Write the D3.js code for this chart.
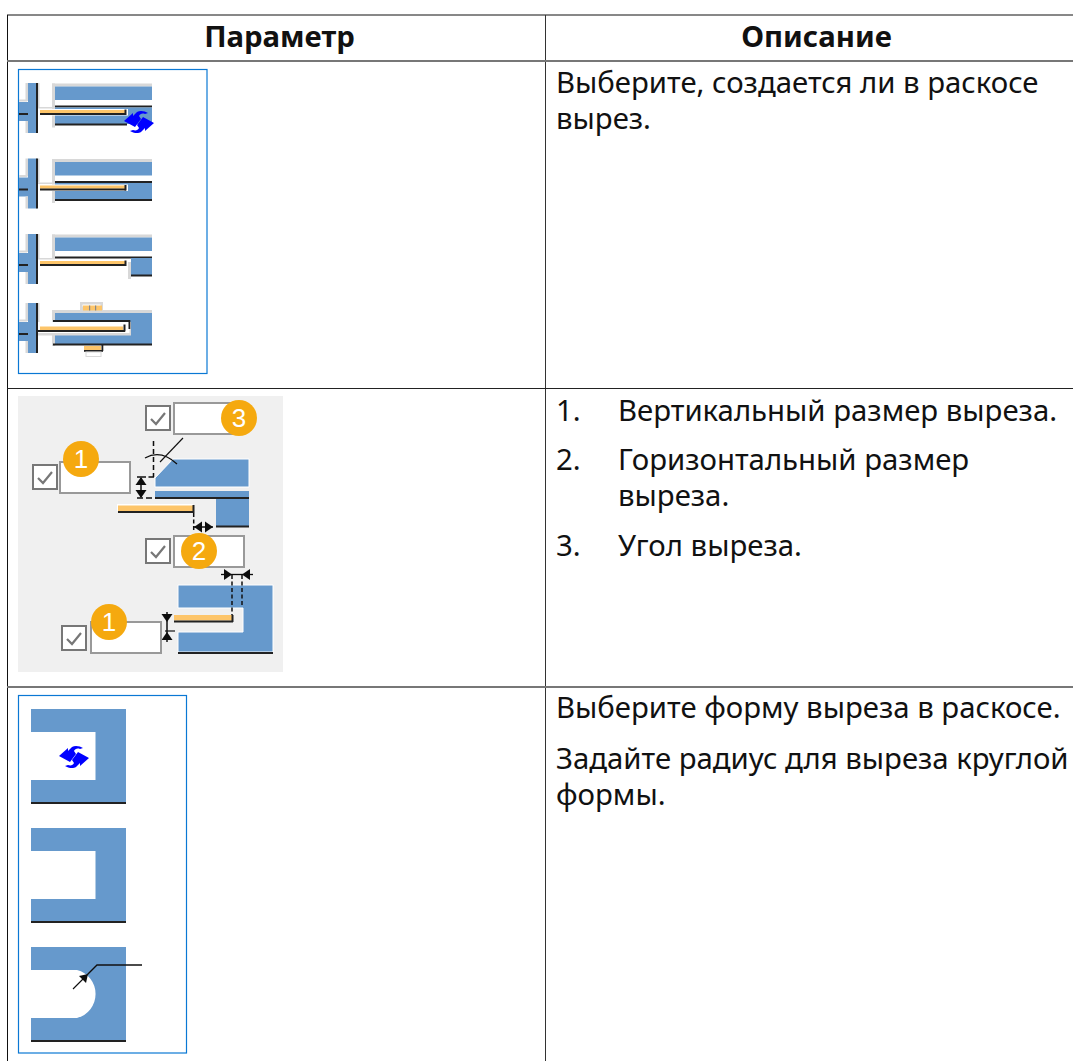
<!DOCTYPE html>
<html>
<head>
<meta charset="utf-8">
<script src="https://cdn.jsdelivr.net/npm/d3@7"></script>
<style>
html, body { margin: 0; padding: 0; background: #fff; overflow: hidden; }
svg { display: block; }
text { font-family: "Noto Sans", "Open Sans", sans-serif; fill: #111; }
</style>
</head>
<body>
<svg id="vis"></svg>
<script>
const WIDTH = 1073;
const HEIGHT = 1061;

const BLUE = "#6699cc";
const YELLOW = "#fdc56a";
const FRAME = "#0a78d4";
const ORANGE = "#f5a90f";
const GREY = "#d8d8d8";
const DARK = "#222";
const FONT_SIZE = 29.33;

const headers = ["Параметр", "Описание"];
const row1Lines = ["Выберите, создается ли в раскосе", "вырез."];
const row2Numbers = ["1.", "2.", "", "3."];
const row2Lines = ["Вертикальный размер выреза.", "Горизонтальный размер", "выреза.", "Угол выреза."];
const row3Lines = ["Выберите форму выреза в раскосе.", "Задайте радиус для выреза круглой", "формы."];
const badgeLabels = ["3", "1", "2", "1"];

const svg = d3.select("#vis").attr("width", WIDTH).attr("height", HEIGHT);

const defs = svg.append("defs");
defs.append("filter").attr("id", "soft")
    .attr("x", "-5%").attr("y", "-5%").attr("width", "110%").attr("height", "110%")
    .append("feGaussianBlur").attr("stdDeviation", 0.45);

function rect(g, x, y, w, h, fill) {
    return g.append("rect").attr("x", x).attr("y", y).attr("width", w).attr("height", h).attr("fill", fill);
}
function line(g, x1, y1, x2, y2, color, width, dash) {
    const l = g.append("line").attr("x1", x1).attr("y1", y1).attr("x2", x2).attr("y2", y2)
        .attr("stroke", color || "#111").attr("stroke-width", width || 1);
    if (dash) l.attr("stroke-dasharray", dash);
    return l;
}
function poly(g, d, fill, stroke) {
    return g.append("path").attr("d", d).attr("fill", fill).attr("stroke", stroke || "none");
}

// table grid
const grid = svg.append("g");
line(grid, 7, 15, WIDTH, 15, "#111", 1);
line(grid, 7.5, 15, 7.5, HEIGHT, "#111", 1);
line(grid, 545.5, 15, 545.5, HEIGHT, "#333", 1);
line(grid, 7, 61, WIDTH, 61, "#777", 2);
line(grid, 7, 388.5, WIDTH, 388.5, "#222", 1);
line(grid, 7, 687, WIDTH, 687, "#777", 2);

// header and text
svg.selectAll("text.head").data(headers).enter().append("text")
    .attr("class", "head")
    .attr("x", (d, i) => i === 0 ? 279.5 : 816.5)
    .attr("y", 46.5)
    .attr("text-anchor", "middle")
    .attr("font-size", FONT_SIZE)
    .attr("font-weight", 700)
    .text(d => d);

function bodyText(list, x, ys) {
    list.forEach((t, i) => {
        svg.append("text").attr("x", x).attr("y", ys[i]).attr("font-size", FONT_SIZE).text(t);
    });
}
bodyText(row1Lines, 556, [93, 129]);
bodyText(row2Numbers, 556, [421, 470, 506, 556]);
bodyText(row2Lines, 618, [421, 470, 506, 556]);
bodyText(row3Lines, 556, [718, 769, 805]);

// small blue "toggle" arrows
function swapIcon(g, cx, cy) {
    const arrow = "M-15,-1 L-6,-9 L-6,-6 L-2,-10 C1,-12 6,-11 9,-9 L6,-8 C3,-9 1,-8 0,-6 L2,-3 L-4,5 Z";
    const s = g.append("g").attr("transform", `translate(${cx},${cy})`);
    poly(s, arrow, "#0000ff");
    poly(s, arrow, "#0000ff").attr("transform", "rotate(180)");
}

// first picture, four beam variants
const pic1 = svg.append("g");
pic1.append("rect").attr("x", 18.5).attr("y", 69.5).attr("width", 188.5).attr("height", 304)
    .attr("fill", "#fff").attr("stroke", FRAME).attr("stroke-width", 1.2);
const pic1Art = pic1.append("g").attr("filter", "url(#soft)");

function column(g, top) {
    rect(g, 25.5, top, 2.5, 18, GREY);
    rect(g, 19, top + 16.5, 8, 2, GREY);
    rect(g, 37.5, top, 2, 24, GREY);
    rect(g, 19, top + 19, 9, 19, BLUE);
    rect(g, 28, top, 8.5, 50, BLUE);
    rect(g, 36, top, 2, 50, DARK);
    rect(g, 19, top + 30, 9, 2, DARK);
    rect(g, 25.5, top + 38, 2.5, 12, GREY);
}
function variant(g, top, kind) {
    column(g, top);
    const y = top;
    rect(g, 52, y + 0.5, 100, 3, GREY);
    rect(g, 52, y + 0.5, 3, kind === 2 ? 24 : 44, GREY);
    rect(g, 55, y + 3.5, 97, 13.5, BLUE);
    rect(g, 38, y + 24, 17, 1.5, GREY);
    rect(g, 55, y + 22.5, 97, 2, DARK);
    if (kind === 2) {
        rect(g, 128, y + 28, 3, 17, GREY);
        rect(g, 131, y + 24, 21, 17, BLUE);
        rect(g, 131, y + 40.5, 21, 2, DARK);
    } else {
        rect(g, 55, y + 24.5, 97, 16.5, BLUE);
        rect(g, 55, y + 40.5, kind === 0 ? 72 : 97, 2, DARK);
        rect(g, 38, y + 26, 90, 6.5, "#fff");
    }
    rect(g, 40, y + 27, 85, 3.2, YELLOW);
    rect(g, 40, y + 30, 86, 2, DARK);
    rect(g, 124.5, y + 26.5, 2, 5.5, DARK);
}
variant(pic1Art, 83, 0);
variant(pic1Art, 158.5, 1);
variant(pic1Art, 234, 2);

// fourth one has the slot and the two tabs
column(pic1Art, 303);
rect(pic1Art, 52, 310, 100, 3, GREY);
rect(pic1Art, 52, 310, 3, 36, GREY);
rect(pic1Art, 55, 313, 97, 31, BLUE);
rect(pic1Art, 38, 322, 93, 13.5, GREY);
rect(pic1Art, 38, 322, 91.5, 11, "#fff");
rect(pic1Art, 53, 320, 77, 2, DARK);
rect(pic1Art, 128.5, 320, 1.8, 9, DARK);
rect(pic1Art, 40, 326.5, 83, 3.5, YELLOW);
rect(pic1Art, 38, 330, 87, 2, DARK);
rect(pic1Art, 123.5, 324.5, 2, 7, DARK);
rect(pic1Art, 53, 343.5, 99, 2, DARK);
rect(pic1Art, 80, 302, 23, 8.5, GREY);
rect(pic1Art, 82.5, 304.5, 18, 2, "#fff");
rect(pic1Art, 83, 305.5, 19, 5, YELLOW);
rect(pic1Art, 89, 305.5, 1.2, 5, "#888");
rect(pic1Art, 95, 305.5, 1.2, 5, "#888");
rect(pic1Art, 84, 346, 17, 4, YELLOW);
rect(pic1Art, 84, 350, 19, 1.8, DARK);
rect(pic1Art, 101.5, 345, 1.8, 6, DARK);
rect(pic1Art, 86, 352, 15, 4.5, "#fff").attr("stroke", GREY);
swapIcon(pic1, 139, 122);

// second picture, dimensions panel
const pic2 = svg.append("g");
rect(pic2, 18, 396, 265, 276, "#f0f0f0");
const pic2Art = pic2.append("g").attr("filter", "url(#soft)");

function arrowHead(g, x, y, dir) {
    const a = 8, b = 5.5;
    const d = dir === "l" ? `M${x},${y} L${x + a},${y - b} L${x + a},${y + b} Z`
        : dir === "r" ? `M${x},${y} L${x - a},${y - b} L${x - a},${y + b} Z`
        : dir === "u" ? `M${x},${y} L${x - b},${y + a} L${x + b},${y + a} Z`
        : `M${x},${y} L${x - b},${y - a} L${x + b},${y - a} Z`;
    poly(g, d, "#111");
}

// upper part
poly(pic2Art, "M155,487 L155,478 L173,459 L249,459 L249,487 Z", BLUE, "#fff");
rect(pic2Art, 155, 491, 94, 6.5, BLUE);
rect(pic2Art, 155, 497, 94, 2, DARK);
rect(pic2Art, 216, 499, 33, 27, BLUE);
rect(pic2Art, 216, 525.5, 33, 2, DARK);
rect(pic2Art, 117, 504, 76, 7, "#fff");
rect(pic2Art, 118, 505.5, 75, 5.5, YELLOW);
rect(pic2Art, 118, 511, 76, 2, DARK);
rect(pic2Art, 192.5, 505, 2, 8, DARK);
line(pic2Art, 193.7, 513, 193.7, 530, "#111", 1.5, "4 2.5");
line(pic2Art, 153.5, 441, 153.5, 477, "#111", 1.5, "5 3");
line(pic2Art, 137, 477, 154, 477, "#111", 1.5, "9 2.5");
line(pic2Art, 137, 498, 152, 498, "#111", 1.5, "6 3");
line(pic2Art, 141, 478, 141, 497, "#111", 1.5);
arrowHead(pic2Art, 141, 477, "u");
arrowHead(pic2Art, 141, 498, "d");
line(pic2Art, 194, 527, 213, 527, "#111", 1.5);
arrowHead(pic2Art, 194, 527, "l");
arrowHead(pic2Art, 213, 527, "r");
pic2Art.append("path").attr("d", "M145,458 Q161,449 177,464").attr("fill", "none").attr("stroke", "#111").attr("stroke-width", 1.3);
line(pic2Art, 183, 438, 160, 462, "#111", 1.1);

// lower part
poly(pic2Art, "M178,585 L273,585 L273,652 L178,652 L178,632 L243,632 L243,608 L178,608 Z", BLUE, "#fff");
rect(pic2Art, 178, 652, 95, 2, DARK);
rect(pic2Art, 174, 615, 58, 5.5, YELLOW);
rect(pic2Art, 174, 620.5, 59, 2, DARK);
rect(pic2Art, 231.5, 615, 2, 7, DARK);
line(pic2Art, 232, 575, 232, 615, "#111", 1.5, "4 2.5");
line(pic2Art, 242, 575, 242, 607, "#111", 1.5, "4 2.5");
line(pic2Art, 221, 574.5, 253, 574.5, "#111", 1.3);
arrowHead(pic2Art, 232, 574.5, "r");
arrowHead(pic2Art, 242, 574.5, "l");
line(pic2Art, 167, 612, 167, 642, "#111", 1.5);
arrowHead(pic2Art, 167, 622, "d");
arrowHead(pic2Art, 167, 632, "u");
line(pic2Art, 165, 631, 175, 631, "#111", 1.2);

// checkbox + input + numbered badge
const fields = [
    { cx: 146, cy: 406, ix: 174, iy: 403, bx: 239, by: 418 },
    { cx: 33, cy: 465, ix: 60, iy: 462, bx: 81, by: 459 },
    { cx: 146, cy: 539, ix: 174, iy: 536, bx: 199, by: 551 },
    { cx: 62, cy: 626, ix: 91, iy: 622, bx: 109, by: 622 }
];
fields.forEach((f, i) => {
    pic2Art.append("rect").attr("x", f.cx).attr("y", f.cy).attr("width", 24).attr("height", 24)
        .attr("fill", "#fff").attr("stroke", "#777").attr("stroke-width", 2);
    pic2Art.append("path")
        .attr("d", `M${f.cx + 5},${f.cy + 13} L${f.cx + 10},${f.cy + 18} L${f.cx + 19},${f.cy + 7}`)
        .attr("fill", "none").attr("stroke", "#777").attr("stroke-width", 2.2);
    pic2Art.append("rect").attr("x", f.ix).attr("y", f.iy).attr("width", 70).attr("height", 31)
        .attr("fill", "#fff").attr("stroke", "#999").attr("stroke-width", 2);
    pic2.append("circle").attr("cx", f.bx).attr("cy", f.by).attr("r", 18).attr("fill", ORANGE);
    pic2.append("text").attr("x", f.bx).attr("y", f.by + 9)
        .attr("text-anchor", "middle").attr("font-size", 26)
        .style("font-family", "'Liberation Sans', sans-serif")
        .style("fill", "#fff").text(badgeLabels[i]);
});

// third picture, three notch shapes
const pic3 = svg.append("g");
pic3.append("rect").attr("x", 18.5).attr("y", 695.5).attr("width", 168).attr("height", 357.5)
    .attr("fill", "#fff").attr("stroke", FRAME).attr("stroke-width", 1.2);
const pic3Art = pic3.append("g").attr("filter", "url(#soft)");

function notchShape(g, top, round) {
    const n1 = top + 23, n2 = top + 71, b = top + 93;
    const inner = round
        ? `L31,${n2} L77,${n2} A24.8,24.8 0 0 0 77,${n1} L31,${n1}`
        : `L31,${n2} L95.5,${n2} L95.5,${n1} L31,${n1}`;
    poly(g, `M31,${top} L126,${top} L126,${b} L31,${b} ${inner} Z`, BLUE);
    rect(g, 31, b, 95, 2, DARK);
}
notchShape(pic3Art, 709, false);
notchShape(pic3Art, 828, false);
notchShape(pic3Art, 947, true);
swapIcon(pic3, 74, 757);

pic3Art.append("path").attr("d", "M142,965 L97,965 L87,975")
    .attr("fill", "none").attr("stroke", "#111").attr("stroke-width", 1.4);
line(pic3Art, 73, 989, 84, 978, "#111", 1.1);
poly(pic3Art, "M88,974 L86,983 L79,976 Z", "#111");
</script>
</body>
</html>
